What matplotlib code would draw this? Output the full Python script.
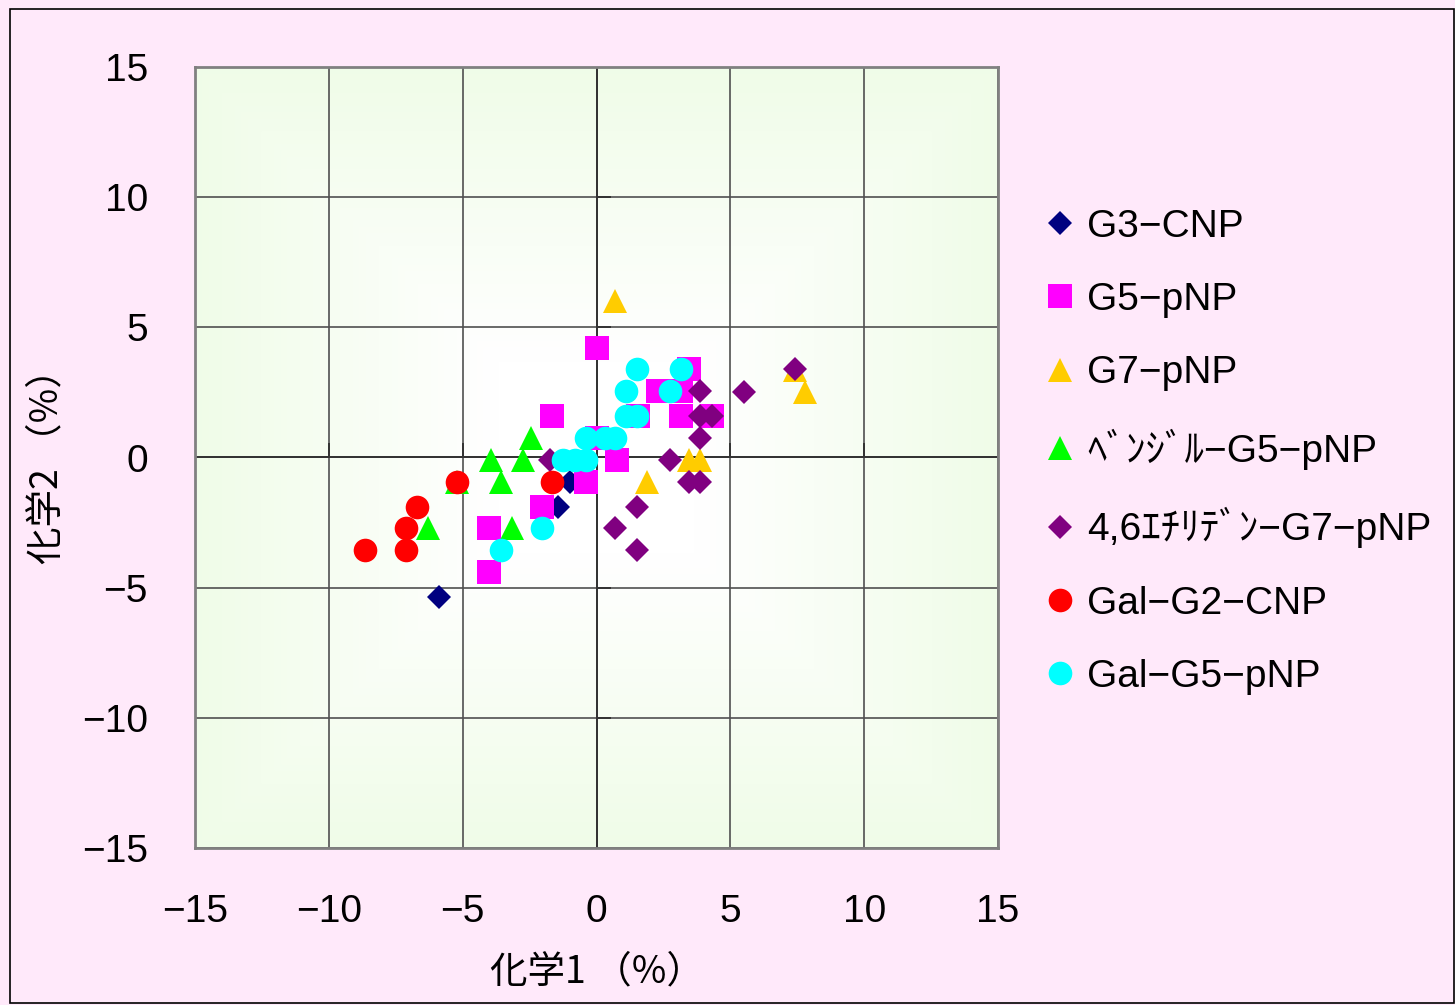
import matplotlib
matplotlib.use("Agg")
import matplotlib.pyplot as plt
import numpy as np
from matplotlib.patches import Rectangle

plt.rcParams['font.family'] = ['Noto Sans CJK JP', 'DejaVu Sans']
LATIN = ['Liberation Sans', 'Noto Sans CJK JP', 'DejaVu Sans']

# ---- data ----
g3_cnp_x = [-5.9, -1.45, -1.0]
g3_cnp_y = [-5.35, -1.9, -0.95]

g5_pnp_x = [-1.65, -2.05, -4.0, -4.0, 0.0, 3.45, 2.3, 3.15, 3.15, 4.3, 1.55, 0.0, 0.75, -0.4]
g5_pnp_y = [1.6, -1.9, -2.7, -4.4, 4.2, 3.4, 2.55, 2.55, 1.6, 1.6, 1.6, 0.75, -0.1, -0.95]

g7_pnp_x = [0.7, 1.9, 3.45, 3.85, 7.4, 7.8]
g7_pnp_y = [6.0, -0.95, -0.1, -0.1, 3.35, 2.5]

benzyl_x = [-5.2, -2.45, -3.95, -2.75, -3.55, -6.3, -3.15]
benzyl_y = [-0.95, 0.75, -0.1, -0.1, -0.95, -2.7, -2.7]

ethyl_x = [-1.75, 7.4, 5.5, 3.85, 3.85, 4.3, 3.85, 2.75, 3.45, 3.85, 1.5, 0.7, 1.5]
ethyl_y = [-0.1, 3.4, 2.5, 2.55, 1.6, 1.6, 0.75, -0.1, -0.95, -0.95, -1.9, -2.7, -3.55]

gal_g2_x = [-5.2, -6.7, -7.1, -8.65, -7.1, -1.65]
gal_g2_y = [-0.95, -1.9, -2.7, -3.55, -3.55, -0.95]

gal_g5_x = [-3.55, -2.05, -1.25, -0.8, -0.4, -0.4, 0.3, 0.7, 1.1, 1.5, 1.1, 2.75, 1.5, 3.15]
gal_g5_y = [-3.55, -2.7, -0.1, -0.1, -0.1, 0.75, 0.75, 0.75, 1.6, 1.6, 2.55, 2.55, 3.4, 3.4]

labels = ["G3−CNP", "G5−pNP", "G7−pNP", "ﾍﾞﾝｼﾞﾙ−G5−pNP",
          "4,6ｴﾁﾘﾃﾞﾝ−G7−pNP", "Gal−G2−CNP", "Gal−G5−pNP"]
ticks = [-15, -10, -5, 0, 5, 10, 15]
tick_labels = ["−15", "−10", "−5", "0", "5", "10", "15"]

series = [
    (g3_cnp_x, g3_cnp_y, "D", 12, "#000080"),
    (g5_pnp_x, g5_pnp_y, "s", 17, "#FF00FF"),
    (g7_pnp_x, g7_pnp_y, "^", 17, "#FFCC00"),
    (benzyl_x, benzyl_y, "^", 17, "#00FF00"),
    (ethyl_x, ethyl_y, "D", 12, "#800080"),
    (gal_g2_x, gal_g2_y, "o", 17, "#FF0000"),
    (gal_g5_x, gal_g5_y, "o", 17, "#00FFFF"),
]

fig = plt.figure(figsize=(14.55, 10.05), dpi=100, facecolor="#FFE9FA")
fig.patches.append(Rectangle((10 / 1455, 2 / 1005), 1444 / 1455, 994 / 1005,
                             transform=fig.transFigure, fill=False,
                             edgecolor="black", linewidth=1.2))
ax = fig.add_axes([195 / 1455, 1 - 848 / 1005, 803 / 1455, 781 / 1005])

# light green background fading to white in the middle
u = np.linspace(-1, 1, 300)
uu, vv = np.meshgrid(u, u)
r = np.clip((np.maximum(np.abs(uu), np.abs(vv)) - 0.25) / 0.75, 0, 1)
edge = np.array([0.94, 0.99, 0.91])
img = 1 - (1 - edge)[None, None, :] * r[..., None]
ax.imshow(img, extent=(-15, 15, -15, 15), aspect="auto", zorder=0,
          interpolation="bilinear")

for x, y, m, ms, c in series:
    ax.plot(x, y, linestyle="none", marker=m, markersize=ms, color=c,
            markeredgewidth=0, zorder=3)

ax.set_xlim(-15, 15)
ax.set_ylim(-15, 15)
ax.set_xticks(ticks)
ax.set_yticks(ticks)
ax.set_xticklabels(tick_labels, fontsize=28, family=LATIN)
ax.set_yticklabels(tick_labels, fontsize=28, family=LATIN)
ax.tick_params(length=0)
ax.tick_params(axis="x", pad=33)
ax.tick_params(axis="y", pad=34)
ax.grid(True, color="#505050", linewidth=1.2, zorder=1)
ax.set_axisbelow(True)
for s in ax.spines.values():
    s.set_color("#808080")
    s.set_linewidth(2)
ax.axhline(0, color="#333333", linewidth=1.4, zorder=1)
ax.axvline(0, color="#333333", linewidth=1.4, zorder=1)
# small tick marks along the zero axes (Excel style)
for t in ticks[1:-1]:
    ax.plot([t, t], [0, 0.5], color="#333333", linewidth=1.4, zorder=1)
    ax.plot([0, 0.5], [t, t], color="#333333", linewidth=1.4, zorder=1)

ax.set_xlabel("化学1 （%）", fontsize=27, labelpad=16)
ax.set_ylabel("化学2 （%）", fontsize=27, labelpad=11)

handles = [plt.Line2D([], [], linestyle="none", marker=m, markersize=ms,
                      color=c, markeredgewidth=0)
           for _, _, m, ms, c in series]
fig.legend(handles, labels, loc="upper left",
           bbox_to_anchor=(1021 / 1455, 1 - 193 / 1005),
           frameon=False, prop={'family': LATIN, 'size': 28},
           handletextpad=0.1, labelspacing=0.96, handlelength=1.2,
           borderaxespad=0)

fig.savefig("out.png", dpi=100, facecolor=fig.get_facecolor())
